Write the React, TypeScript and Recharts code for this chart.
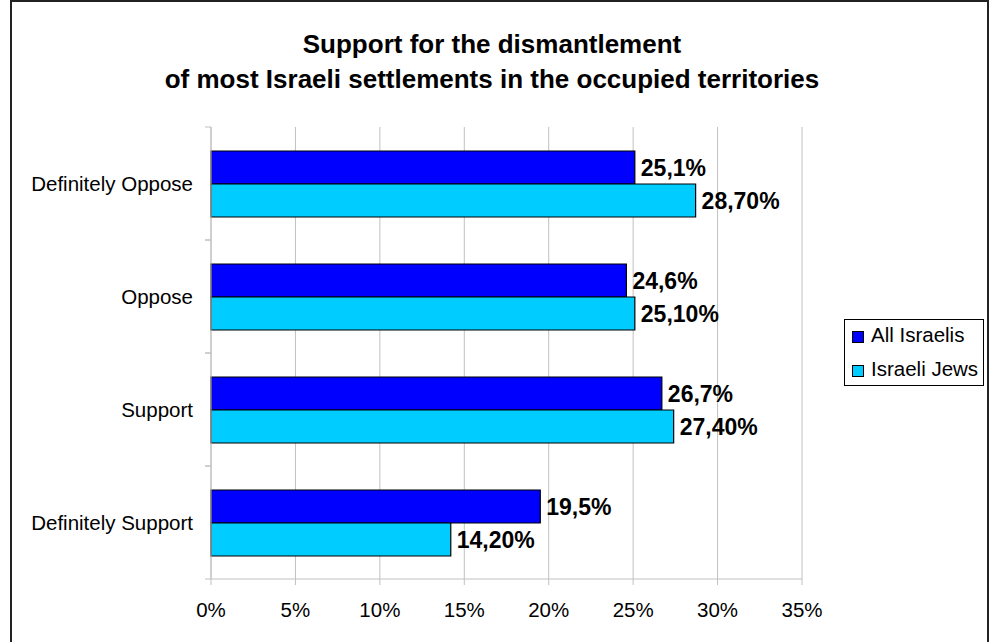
import { Bar, BarChart, CartesianGrid, XAxis, YAxis, Legend, LabelList } from 'recharts';

const categories = ['Definitely Oppose', 'Oppose', 'Support', 'Definitely Support'];
const allIsraelis = [25.1, 24.6, 26.7, 19.5];
const israeliJews = [28.7, 25.1, 27.4, 14.2];
const xTicks = [0, 5, 10, 15, 20, 25, 30, 35];

const seriesInfo = [
    { key: 'allIsraelis', name: 'All Israelis', color: '#0000FF', decimals: 1 },
    { key: 'israeliJews', name: 'Israeli Jews', color: '#00CCFF', decimals: 2 },
];

const data = categories.map((c, i) => ({
    category: c,
    allIsraelis: allIsraelis[i],
    israeliJews: israeliJews[i],
}));

const FONT = '"Liberation Sans", Arial, sans-serif';
const GRID = '#c0c0c0';

const fmt = (decimals: number) => (v: any) => `${Number(v).toFixed(decimals).replace('.', ',')}%`;

// category labels, with the little tick marks on the band edges like Excel
function CategoryTick(props: any) {
    const { x, y, payload } = props;
    const half = payload.offset ?? 0;
    const axisX = x + 18;
    return (
        <g>
            <line x1={axisX - 6} x2={axisX} y1={y - half} y2={y - half} stroke={GRID} />
            <line x1={axisX - 6} x2={axisX} y1={y + half} y2={y + half} stroke={GRID} />
            <text x={x} y={y} dy="0.355em" textAnchor="end" fill="#000" fontSize={20.5}>
                {payload.value}
            </text>
        </g>
    );
}

function LegendBox() {
    return (
        <div
            style={{
                boxSizing: 'border-box',
                width: 140,
                height: 67,
                border: '1px solid #000',
                background: '#fff',
                fontSize: 20.5,
                color: '#000',
            }}
        >
            {seriesInfo.map((s) => (
                <div key={s.key} style={{ display: 'flex', alignItems: 'center', height: 34, paddingLeft: 7 }}>
                    <span
                        style={{
                            display: 'inline-block',
                            boxSizing: 'border-box',
                            width: 12,
                            height: 12,
                            background: s.color,
                            border: '1px solid #000',
                            marginRight: 7,
                        }}
                    />
                    <span style={{ position: 'relative', top: -2, whiteSpace: 'nowrap' }}>{s.name}</span>
                </div>
            ))}
        </div>
    );
}

export default function App() {
    return (
        <div
            style={{
                position: 'absolute',
                left: 10,
                top: 0,
                width: 979,
                height: 660,
                boxSizing: 'border-box',
                border: '2px solid #222',
                background: '#fff',
                fontFamily: FONT,
            }}
        >
            <div
                style={{
                    position: 'absolute',
                    left: 0,
                    top: 24.5,
                    width: 960,
                    textAlign: 'center',
                    fontWeight: 'bold',
                    fontSize: 26,
                    lineHeight: '35px',
                    color: '#000',
                }}
            >
                Support for the dismantlement
                <br />
                of most Israeli settlements in the occupied territories
            </div>
            <BarChart
                width={975}
                height={640}
                data={data}
                layout="vertical"
                margin={{ top: 125, right: 185, left: 0, bottom: 33 }}
                barCategoryGap={24}
                barGap={0}
                style={{ fontFamily: FONT }}
            >
                <CartesianGrid horizontal={false} stroke={GRID} />
                <XAxis
                    type="number"
                    domain={[0, 35]}
                    ticks={xTicks}
                    interval={0}
                    height={30}
                    stroke={GRID}
                    tickSize={6}
                    tickMargin={17}
                    tick={{ fill: '#000', fontSize: 20.5 }}
                    tickFormatter={(v) => `${v}%`}
                />
                <YAxis
                    type="category"
                    dataKey="category"
                    width={199}
                    stroke={GRID}
                    tickLine={false}
                    tickSize={6}
                    tickMargin={12}
                    interval={0}
                    tick={<CategoryTick />}
                />
                <Legend
                    layout="horizontal"
                    verticalAlign="middle"
                    align="center"
                    content={() => <LegendBox />}
                    wrapperStyle={{ left: 832, top: 317, width: 140, height: 67 }}
                />
                {seriesInfo.map((s) => (
                    <Bar
                        key={s.key}
                        dataKey={s.key}
                        name={s.name}
                        fill={s.color}
                        stroke="#000"
                        strokeWidth={1.2}
                        isAnimationActive={false}
                    >
                        <LabelList
                            dataKey={s.key}
                            position="right"
                            offset={6}
                            formatter={fmt(s.decimals)}
                            style={{ fontWeight: 'bold', fontSize: 23, fill: '#000', fontFamily: FONT }}
                        />
                    </Bar>
                ))}
            </BarChart>
        </div>
    );
}
